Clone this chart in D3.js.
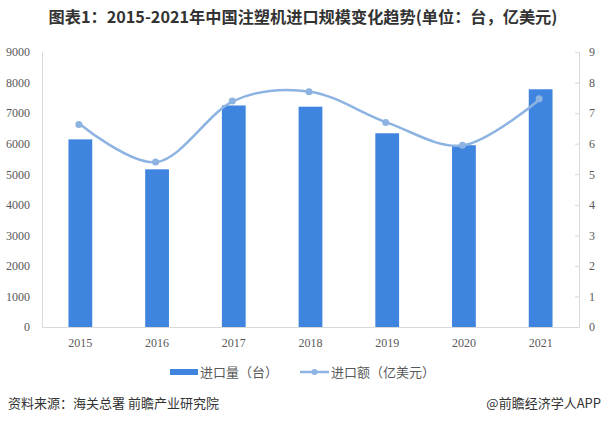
<!DOCTYPE html>
<html><head><meta charset="utf-8">
<script src="https://cdn.jsdelivr.net/npm/d3@7/dist/d3.min.js"></script>
<style>
body{margin:0;background:#fff;}
svg{display:block;}
</style></head>
<body>
<svg id="chart" width="603" height="421"></svg>
<script>
const years = ["2015","2016","2017","2018","2019","2020","2021"];
const importVolume = [6140, 5160, 7250, 7210, 6340, 5950, 7780];
const importValue = [6.63, 5.40, 7.40, 7.70, 6.69, 5.95, 7.47];
const leftTicks = [0,1000,2000,3000,4000,5000,6000,7000,8000,9000];
const rightTicks = [0,1,2,3,4,5,6,7,8,9];
const titleText = "图表1：2015-2021年中国注塑机进口规模变化趋势(单位：台，亿美元)";
const legendLabels = ["进口量（台）", "进口额（亿美元）"];
const sourceText = "资料来源：海关总署 前瞻产业研究院";
const creditText = "@前瞻经济学人APP";

const svg = d3.select("#chart");
const m = {left:42, right:579, top:52, bottom:327};
const barColor = "#3f84de", lineColor = "#8db3e2", axisColor = "#d9d9d9";
const cjk = "'Microsoft YaHei','Noto Sans CJK SC','Noto Sans',sans-serif";
const serif = "'Liberation Serif','Times New Roman',serif";

const x = d3.scaleBand().domain(years).range([m.left, m.right]).paddingInner(0.69).paddingOuter(0.345);
const yL = d3.scaleLinear().domain([0,9000]).range([m.bottom, m.top]);
const yR = d3.scaleLinear().domain([0,9]).range([m.bottom, m.top]);

// title
svg.append("text").attr("x", 303).attr("y", 23).attr("text-anchor","middle")
  .attr("font-family", cjk).attr("font-weight","bold").attr("font-size", 16.2)
  .attr("fill","#333").text(titleText);

// left axis
const gL = svg.append("g").attr("transform",`translate(${m.left},0)`)
  .call(d3.axisLeft(yL).tickValues(leftTicks).tickFormat(d3.format("d")).tickSize(0).tickPadding(12));
gL.attr("font-family", serif);
gL.select(".domain").attr("stroke", axisColor);
gL.selectAll("text").attr("font-family", serif).attr("font-size", 12).attr("fill","#595959");

// right axis
const gR = svg.append("g").attr("transform",`translate(${m.right},0)`)
  .call(d3.axisRight(yR).tickValues(rightTicks).tickFormat(d3.format("d")).tickSizeInner(-4).tickSizeOuter(0).tickPadding(10));
gR.attr("font-family", serif);
gR.select(".domain").attr("stroke", axisColor);
gR.selectAll("line").attr("stroke", axisColor);
gR.selectAll("text").attr("font-family", serif).attr("font-size", 12).attr("fill","#595959");

// bottom axis
const gB = svg.append("g").attr("transform",`translate(0,${m.bottom})`)
  .call(d3.axisBottom(x).tickSize(0).tickPadding(11));
gB.attr("font-family", serif);
gB.select(".domain").attr("stroke", axisColor);
gB.selectAll("text").attr("font-family", serif).attr("font-size", 12).attr("fill","#595959");

// bars
svg.append("g").selectAll("rect").data(years).join("rect")
  .attr("x", d => x(d)).attr("width", x.bandwidth())
  .attr("y", (d,i) => yL(importVolume[i]))
  .attr("height", (d,i) => yL(0) - yL(importVolume[i]))
  .attr("fill", barColor);

// line
const cx = d => x(d) + x.bandwidth()/2;
const line = d3.line().x((d,i) => cx(years[i])).y(d => yR(d)).curve(d3.curveCardinal.tension(0));
svg.append("path").datum(importValue).attr("d", line)
  .attr("fill","none").attr("stroke", lineColor).attr("stroke-width", 2.5);
svg.append("g").selectAll("circle").data(importValue).join("circle")
  .attr("cx", (d,i) => cx(years[i]) - 1.5).attr("cy", d => yR(d)).attr("r", 3.5)
  .attr("fill", lineColor);

// legend
const lg = svg.append("g");
lg.append("rect").attr("x",170).attr("y",369).attr("width",28).attr("height",6).attr("fill", barColor);
lg.append("text").attr("x",200).attr("y",377).attr("font-family",cjk).attr("font-size",13)
  .attr("fill","#595959").text(legendLabels[0]);
lg.append("line").attr("x1",300).attr("x2",329).attr("y1",372).attr("y2",372)
  .attr("stroke", lineColor).attr("stroke-width",2.5);
lg.append("circle").attr("cx",314.5).attr("cy",372).attr("r",3).attr("fill", lineColor);
lg.append("text").attr("x",331).attr("y",377).attr("font-family",cjk).attr("font-size",13)
  .attr("fill","#595959").text(legendLabels[1]);

// footer
svg.append("text").attr("x",8).attr("y",408).attr("font-family",cjk).attr("font-size",13)
  .attr("fill","#333").text(sourceText);
svg.append("text").attr("x",601).attr("y",408).attr("text-anchor","end").attr("font-family",cjk).attr("font-size",13)
  .attr("fill","#333").text(creditText);
</script>
</body></html>
